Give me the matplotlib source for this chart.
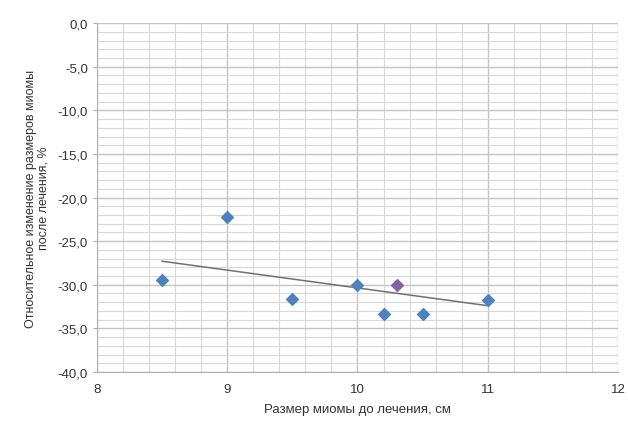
import matplotlib
matplotlib.use("Agg")
import matplotlib.pyplot as plt
from matplotlib.ticker import MultipleLocator

plt.rcParams['font.family'] = ['Liberation Sans', 'DejaVu Sans']

# data
size_x = [8.5, 9.0, 9.5, 10.0, 10.2, 10.5, 11.0]
change_y = [-29.4, -22.2, -31.6, -30.0, -33.3, -33.3, -31.7]
extra_x = [10.3]
extra_y = [-30.0]
trend_x = [8.5, 11.0]
trend_y = [-27.3, -32.4]

fig = plt.figure(figsize=(6.28, 4.31), dpi=100)
ax = fig.add_axes([0.1545, 0.1346, 0.8295, 0.8094])

ax.set_xlim(8, 12)
ax.set_ylim(-40, 0)
ax.xaxis.set_major_locator(MultipleLocator(1))
ax.xaxis.set_minor_locator(MultipleLocator(0.2))
ax.yaxis.set_major_locator(MultipleLocator(5))
ax.yaxis.set_minor_locator(MultipleLocator(1))
ax.yaxis.set_major_formatter(plt.FuncFormatter(lambda v, p: f"{v:.1f}".replace('.', ',')))

ax.grid(which='major', color='#c4c4c4', linewidth=1.0)
ax.grid(which='minor', color='#d8d8d8', linewidth=0.8)
ax.set_axisbelow(True)

for s in ['top', 'right']:
    ax.spines[s].set_visible(False)
for s in ['left', 'bottom']:
    ax.spines[s].set_color('#b0b0b0')
ax.tick_params(which='both', colors='#b0b0b0', labelcolor='#333333', labelsize=9.5, length=3)
ax.tick_params(which='minor', length=0)
ax.tick_params(axis='x', length=0, pad=8)

ax.plot(trend_x, trend_y, color='#707070', linewidth=1.1, zorder=3)
ax.scatter(size_x, change_y, marker='D', s=36, color='#4f81bd', zorder=4)
ax.scatter(extra_x, extra_y, marker='D', s=36, color='#8064a2', zorder=4)

ax.set_xlabel('Размер миомы до лечения, см', fontsize=9.5, color='#333333', labelpad=6)
ax.set_ylabel('Относительное изменение размеров миомы\nпосле лечения, %', fontsize=9,
              color='#333333', labelpad=6, linespacing=1.0)

fig.savefig('out.png', dpi=100)
